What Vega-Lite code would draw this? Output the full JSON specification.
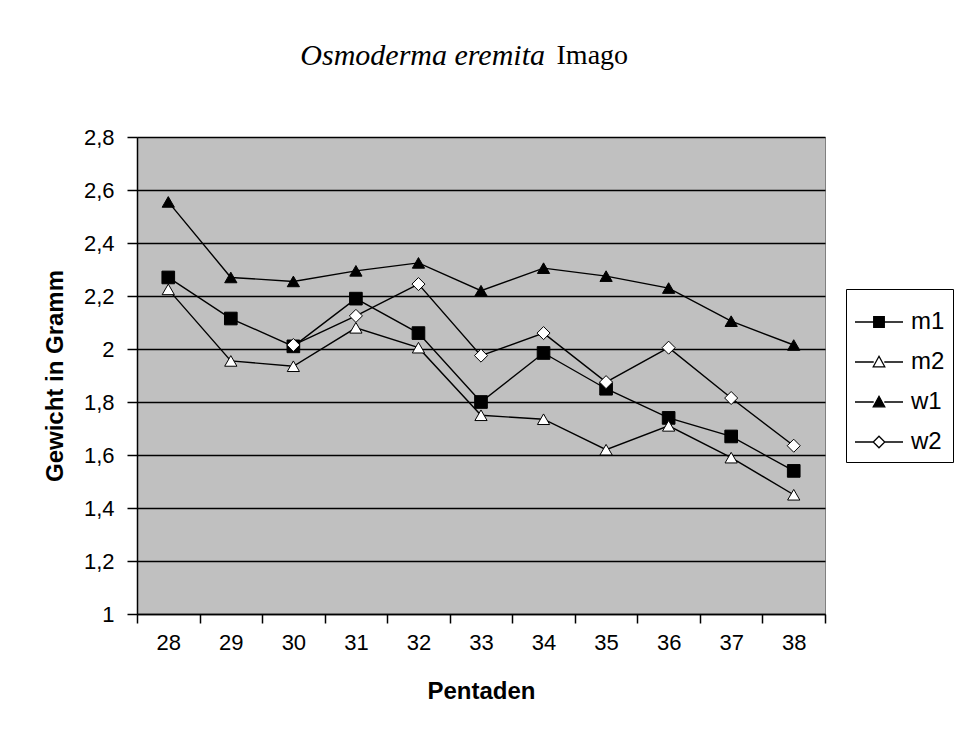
{
  "$schema": "https://vega.github.io/schema/vega-lite/v6.json",
  "autosize": {"type": "none"},
  "width": 688,
  "height": 477,
  "padding": {"left": 137, "top": 137, "right": 138, "bottom": 126},
  "background": "white",
  "title": {
    "text": "Osmoderma eremita",
    "font": "Liberation Serif",
    "fontStyle": "italic",
    "fontWeight": "normal",
    "fontSize": 30,
    "color": "black",
    "anchor": "middle",
    "frame": "group",
    "align": "right",
    "baseline": "alphabetic",
    "dx": 64,
    "offset": -53
  },
  "config": {
    "view": {"fill": "#c0c0c0", "stroke": "#808080", "strokeWidth": 1},
    "axis": {
      "labelFont": "Liberation Sans",
      "labelFontSize": 22,
      "labelColor": "black",
      "titleFont": "Liberation Sans",
      "titleFontSize": 24,
      "titleFontWeight": "bold",
      "titleColor": "black",
      "domainColor": "black",
      "domainWidth": 1.5,
      "tickColor": "black",
      "tickWidth": 1.5
    }
  },
  "data": {
    "values": [
      {"serie": "m1", "pentade": 28, "gewicht": 2.27},
      {"serie": "m1", "pentade": 29, "gewicht": 2.115},
      {"serie": "m1", "pentade": 30, "gewicht": 2.01},
      {"serie": "m1", "pentade": 31, "gewicht": 2.19},
      {"serie": "m1", "pentade": 32, "gewicht": 2.06},
      {"serie": "m1", "pentade": 33, "gewicht": 1.8},
      {"serie": "m1", "pentade": 34, "gewicht": 1.985},
      {"serie": "m1", "pentade": 35, "gewicht": 1.85},
      {"serie": "m1", "pentade": 36, "gewicht": 1.74},
      {"serie": "m1", "pentade": 37, "gewicht": 1.67},
      {"serie": "m1", "pentade": 38, "gewicht": 1.54},
      {"serie": "m2", "pentade": 28, "gewicht": 2.225},
      {"serie": "m2", "pentade": 29, "gewicht": 1.955},
      {"serie": "m2", "pentade": 30, "gewicht": 1.935},
      {"serie": "m2", "pentade": 31, "gewicht": 2.08},
      {"serie": "m2", "pentade": 32, "gewicht": 2.005},
      {"serie": "m2", "pentade": 33, "gewicht": 1.75},
      {"serie": "m2", "pentade": 34, "gewicht": 1.735},
      {"serie": "m2", "pentade": 35, "gewicht": 1.62},
      {"serie": "m2", "pentade": 36, "gewicht": 1.71},
      {"serie": "m2", "pentade": 37, "gewicht": 1.59},
      {"serie": "m2", "pentade": 38, "gewicht": 1.45},
      {"serie": "w1", "pentade": 28, "gewicht": 2.555},
      {"serie": "w1", "pentade": 29, "gewicht": 2.27},
      {"serie": "w1", "pentade": 30, "gewicht": 2.255},
      {"serie": "w1", "pentade": 31, "gewicht": 2.295},
      {"serie": "w1", "pentade": 32, "gewicht": 2.325},
      {"serie": "w1", "pentade": 33, "gewicht": 2.22},
      {"serie": "w1", "pentade": 34, "gewicht": 2.305},
      {"serie": "w1", "pentade": 35, "gewicht": 2.275},
      {"serie": "w1", "pentade": 36, "gewicht": 2.23},
      {"serie": "w1", "pentade": 37, "gewicht": 2.105},
      {"serie": "w1", "pentade": 38, "gewicht": 2.015},
      {"serie": "w2", "pentade": 30, "gewicht": 2.015},
      {"serie": "w2", "pentade": 31, "gewicht": 2.125},
      {"serie": "w2", "pentade": 32, "gewicht": 2.245},
      {"serie": "w2", "pentade": 33, "gewicht": 1.975},
      {"serie": "w2", "pentade": 34, "gewicht": 2.06},
      {"serie": "w2", "pentade": 35, "gewicht": 1.875},
      {"serie": "w2", "pentade": 36, "gewicht": 2.005},
      {"serie": "w2", "pentade": 37, "gewicht": 1.815},
      {"serie": "w2", "pentade": 38, "gewicht": 1.635}
    ]
  },
  "encoding": {
    "x": {
      "field": "pentade",
      "type": "ordinal",
      "scale": {"type": "band", "paddingInner": 0, "paddingOuter": 0},
      "axis": {
        "title": "Pentaden",
        "labelAngle": 0,
        "tickBand": "extent",
        "tickSize": 9,
        "labelPadding": 9,
        "titlePadding": 26
      }
    },
    "y": {
      "field": "gewicht",
      "type": "quantitative",
      "scale": {"domain": [1, 2.8], "zero": false, "nice": false},
      "axis": {
        "title": "Gewicht in Gramm",
        "values": [1, 1.2, 1.4, 1.6, 1.8, 2, 2.2, 2.4, 2.6, 2.8],
        "labelExpr": "replace(format(datum.value, '.1~f'), '.', ',')",
        "grid": true,
        "gridColor": "black",
        "gridWidth": 1.5,
        "gridOpacity": 1,
        "tickSize": 10,
        "labelPadding": 13,
        "titlePadding": 16
      }
    }
  },
  "layer": [
    {
      "mark": {"type": "line", "strokeWidth": 1.4},
      "encoding": {
        "stroke": {
          "field": "serie",
          "type": "nominal",
          "scale": {"domain": ["m1", "m2", "w1", "w2"], "range": ["black", "black", "black", "black"]},
          "legend": {
            "title": null,
            "orient": "none",
            "legendX": 709,
            "legendY": 152,
            "padding": 8,
            "strokeColor": "black",
            "fillColor": "white",
            "labelFont": "Liberation Sans",
            "labelFontSize": 24,
            "labelColor": "black",
            "symbolSize": 2304,
            "symbolStrokeWidth": 1.3,
            "labelOffset": 7,
            "rowPadding": 3,
            "encode": {
              "symbols": {
                "update": {
                  "shape": {"signal": "datum.value === 'm1' ? 'M-1,0H-0.22M0.22,0H1M-0.22,-0.22H0.22V0.22H-0.22Z' : (datum.value === 'w2' ? 'M-1,0H-0.24M0.24,0H1M0,-0.24L0.24,0L0,0.24L-0.24,0Z' : 'M-1,0H-0.22M0.22,0H1M0,-0.24L0.24,0.2H-0.24Z')"},
                  "fill": {"signal": "datum.value === 'm1' || datum.value === 'w1' ? 'black' : 'white'"},
                  "stroke": {"value": "black"},
                  "strokeWidth": {"value": 1.3},
                  "opacity": {"value": 1}
                }
              }
            }
          }
        }
      }
    },
    {
      "transform": [{"filter": "datum.serie === 'm1'"}],
      "mark": {"type": "point", "shape": "square", "filled": true, "fill": "black", "size": 160, "stroke": "black", "strokeWidth": 1, "opacity": 1}
    },
    {
      "transform": [{"filter": "datum.serie === 'm2'"}],
      "mark": {"type": "point", "shape": "triangle-up", "filled": true, "fill": "white", "size": 150, "stroke": "black", "strokeWidth": 1, "opacity": 1}
    },
    {
      "transform": [{"filter": "datum.serie === 'w1'"}],
      "mark": {"type": "point", "shape": "triangle-up", "filled": true, "fill": "black", "size": 150, "stroke": "black", "strokeWidth": 1, "opacity": 1}
    },
    {
      "transform": [{"filter": "datum.serie === 'w2'"}],
      "mark": {"type": "point", "shape": "diamond", "filled": true, "fill": "white", "size": 170, "stroke": "black", "strokeWidth": 1, "opacity": 1}
    },
    {
      "transform": [{"filter": "datum.serie === 'm1' && datum.pentade === 28"}],
      "mark": {"type": "text", "font": "Liberation Serif", "fontSize": 28, "align": "left", "baseline": "alphabetic", "dx": 13, "color": "black"},
      "encoding": {
        "x": {"datum": 34, "type": "ordinal"},
        "y": {"datum": 3.075, "type": "quantitative"},
        "text": {"value": "Imago"}
      }
    }
  ]
}
